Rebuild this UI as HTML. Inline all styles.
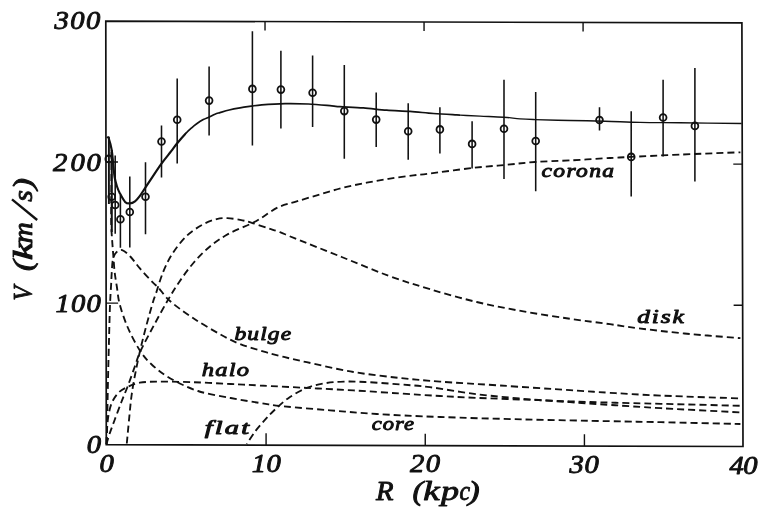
<!DOCTYPE html>
<html lang="en">
<head>
<meta charset="utf-8">
<title>Rotation curve: V (km/s) vs R (kpc)</title>
<style>
html,body{margin:0;padding:0;background:#fff;}
body{width:771px;height:514px;overflow:hidden;font-family:"Liberation Serif",serif;}
svg{display:block;filter:blur(0.35px);}
</style>
</head>
<body>
<svg width="771" height="514" viewBox="0 0 771 514">
<rect width="771" height="514" fill="#fff"/>
<g fill="none" stroke="#111" stroke-linecap="butt" stroke-linejoin="miter">
<path d="M105.80 21.10L741.90 22.90L743.00 446.50L106.30 444.60Z" stroke-width="1.7"/>
<path d="M266.08 445.08V433.28M265.02 21.55V30.55M425.25 445.55V433.75M424.05 22.00V31.00M584.43 446.02V434.22M583.08 22.45V31.45M106.13 303.13H118.13M742.63 305.30H733.63M105.97 161.97H117.97M742.27 164.10H733.27" stroke-width="1.4"/>
<g stroke-width="1.85" stroke-dasharray="7 4">
<path d="M106.30 444.60C106.83 442.83 108.22 437.82 109.50 434.00C110.78 430.18 112.08 426.87 114.00 421.70C115.92 416.53 118.67 409.03 121.00 403.00C123.33 396.97 125.67 391.67 128.00 385.50C130.33 379.33 132.92 371.75 135.00 366.00C137.08 360.25 137.38 357.72 140.50 351.00C143.62 344.28 149.17 334.13 153.70 325.70C158.23 317.27 163.42 307.73 167.70 300.40C171.98 293.07 175.12 287.93 179.40 281.70C183.68 275.47 188.35 268.83 193.40 263.00C198.45 257.17 203.87 251.55 209.70 246.70C215.53 241.85 221.38 237.80 228.40 233.90C235.42 230.00 246.25 226.00 251.80 223.30C257.35 220.60 257.33 220.35 261.70 217.70C266.07 215.05 272.17 210.12 278.00 207.40C283.83 204.68 289.70 203.57 296.70 201.40C303.70 199.23 312.22 196.70 320.00 194.40C327.78 192.10 335.62 189.55 343.40 187.60C351.18 185.65 358.93 184.20 366.70 182.70C374.47 181.20 382.22 179.82 390.00 178.60C397.78 177.38 406.73 176.25 413.40 175.40C420.07 174.55 420.23 174.73 430.00 173.50C439.77 172.27 459.55 169.42 472.00 168.00C484.45 166.58 494.20 166.00 504.70 165.00C515.20 164.00 524.12 162.77 535.00 162.00C545.88 161.23 557.50 161.07 570.00 160.40C582.50 159.73 599.88 158.58 610.00 158.00C620.12 157.42 619.03 157.47 630.70 156.90C642.37 156.33 661.72 155.37 680.00 154.60C698.28 153.83 730.33 152.68 740.40 152.30"/>
<path d="M126.80 443.50C127.20 439.25 128.42 425.92 129.20 418.00C129.98 410.08 130.53 403.17 131.50 396.00C132.47 388.83 133.58 382.50 135.00 375.00C136.42 367.50 138.08 359.33 140.00 351.00C141.92 342.67 144.33 333.17 146.50 325.00C148.67 316.83 151.42 307.27 153.00 302.00C154.58 296.73 154.33 298.33 156.00 293.40C157.67 288.47 160.27 279.02 163.00 272.40C165.73 265.78 168.50 259.73 172.40 253.70C176.30 247.67 181.35 241.07 186.40 236.20C191.45 231.33 197.65 227.35 202.70 224.50C207.75 221.65 212.62 220.15 216.70 219.10C220.78 218.05 223.30 218.08 227.20 218.20C231.10 218.32 236.00 219.03 240.10 219.80C244.20 220.57 247.13 221.38 251.80 222.80C256.47 224.22 263.40 226.73 268.10 228.30C272.80 229.87 275.52 230.52 280.00 232.20C284.48 233.88 284.72 234.27 295.00 238.40C305.28 242.53 326.13 250.78 341.70 257.00C357.27 263.22 373.68 270.33 388.40 275.70C403.12 281.07 415.28 284.82 430.00 289.20C444.72 293.58 461.13 298.30 476.70 302.00C492.27 305.70 507.85 308.60 523.40 311.40C538.95 314.20 555.57 316.67 570.00 318.80C584.43 320.93 598.72 322.63 610.00 324.20C621.28 325.77 625.30 326.65 637.70 328.20C650.10 329.75 667.28 331.83 684.40 333.50C701.52 335.17 731.07 337.42 740.40 338.20"/>
<path d="M106.60 444.00C106.70 440.00 106.97 430.67 107.20 420.00C107.43 409.33 107.70 393.33 108.00 380.00C108.30 366.67 108.67 352.50 109.00 340.00C109.33 327.50 109.65 314.17 110.00 305.00C110.35 295.83 110.80 290.55 111.10 285.00C111.40 279.45 111.48 276.03 111.80 271.70C112.12 267.37 112.22 262.25 113.00 259.00C113.78 255.75 114.97 253.68 116.50 252.20C118.03 250.72 119.90 249.38 122.20 250.10C124.50 250.82 127.38 253.48 130.30 256.50C133.22 259.52 136.00 263.92 139.70 268.20C143.40 272.48 149.38 278.97 152.50 282.20C155.62 285.43 155.48 284.47 158.40 287.60C161.32 290.73 164.17 295.88 170.00 301.00C175.83 306.12 184.83 312.63 193.40 318.30C201.97 323.97 213.63 330.72 221.40 335.00C229.17 339.28 233.57 341.42 240.00 344.00C246.43 346.58 253.33 348.50 260.00 350.50C266.67 352.50 272.22 354.05 280.00 356.00C287.78 357.95 294.47 359.53 306.70 362.20C318.93 364.87 337.85 369.37 353.40 372.00C368.95 374.63 385.57 376.40 400.00 378.00C414.43 379.60 423.33 380.35 440.00 381.60C456.67 382.85 478.33 384.07 500.00 385.50C521.67 386.93 551.67 388.98 570.00 390.20C588.33 391.42 594.83 391.90 610.00 392.80C625.17 393.70 639.27 394.67 661.00 395.60C682.73 396.53 727.17 397.93 740.40 398.40"/>
<path d="M106.50 444.00C106.58 441.67 106.72 434.50 107.00 430.00C107.28 425.50 107.42 421.50 108.20 417.00C108.98 412.50 109.95 407.08 111.70 403.00C113.45 398.92 115.98 395.22 118.70 392.50C121.42 389.78 124.50 388.33 128.00 386.70C131.50 385.07 134.63 383.55 139.70 382.70C144.77 381.85 149.45 381.68 158.40 381.60C167.35 381.52 181.35 381.80 193.40 382.20C205.45 382.60 219.60 383.45 230.70 384.00C241.80 384.55 247.33 384.85 260.00 385.50C272.67 386.15 291.13 387.08 306.70 387.90C322.27 388.72 337.85 389.47 353.40 390.40C368.95 391.33 385.57 392.57 400.00 393.50C414.43 394.43 427.22 395.27 440.00 396.00C452.78 396.73 462.80 397.30 476.70 397.90C490.60 398.50 507.85 399.03 523.40 399.60C538.95 400.17 555.57 400.80 570.00 401.30C584.43 401.80 594.83 402.18 610.00 402.60C625.17 403.02 639.27 403.27 661.00 403.80C682.73 404.33 727.17 405.47 740.40 405.80"/>
<path d="M246.80 444.00C248.23 441.85 252.42 435.07 255.40 431.10C258.38 427.13 261.60 423.63 264.70 420.20C267.80 416.77 270.12 414.13 274.00 410.50C277.88 406.87 282.55 402.17 288.00 398.40C293.45 394.63 300.47 390.43 306.70 387.90C312.93 385.37 319.18 384.25 325.40 383.20C331.62 382.15 337.40 381.80 344.00 381.60C350.60 381.40 355.67 381.53 365.00 382.00C374.33 382.47 389.17 383.53 400.00 384.40C410.83 385.27 417.22 385.57 430.00 387.20C442.78 388.83 461.13 392.27 476.70 394.20C492.27 396.13 507.85 397.47 523.40 398.80C538.95 400.13 555.57 401.18 570.00 402.20C584.43 403.22 594.83 403.90 610.00 404.90C625.17 405.90 639.27 406.95 661.00 408.20C682.73 409.45 727.17 411.70 740.40 412.40" stroke-dashoffset="6.2"/>
<path d="M111.50 152.00C111.48 156.67 111.45 170.83 111.40 180.00C111.35 189.17 111.22 199.33 111.20 207.00C111.18 214.67 111.12 220.08 111.30 226.00C111.48 231.92 111.95 237.42 112.30 242.50C112.65 247.58 113.02 251.63 113.40 256.50C113.78 261.37 114.02 266.62 114.60 271.70C115.18 276.78 116.03 281.50 116.90 287.00C117.77 292.50 117.95 297.87 119.80 304.70C121.65 311.53 124.68 320.42 128.00 328.00C131.32 335.58 135.80 344.17 139.70 350.20C143.60 356.23 146.35 359.53 151.40 364.20C156.45 368.87 162.23 373.73 170.00 378.20C177.77 382.67 187.88 387.70 198.00 391.00C208.12 394.30 220.37 396.00 230.70 398.00C241.03 400.00 251.23 401.62 260.00 403.00C268.77 404.38 271.63 405.08 283.30 406.30C294.97 407.52 314.43 409.02 330.00 410.30C345.57 411.58 358.37 412.88 376.70 414.00C395.03 415.12 415.55 416.10 440.00 417.00C464.45 417.90 495.07 418.70 523.40 419.40C551.73 420.10 587.07 420.73 610.00 421.20C632.93 421.67 639.27 421.73 661.00 422.20C682.73 422.67 727.17 423.70 740.40 424.00"/>
</g>
<clipPath id="c1"><rect x="0" y="0" width="186" height="514"/></clipPath>
<clipPath id="c2"><rect x="186" y="0" width="274" height="514"/></clipPath>
<clipPath id="c3"><rect x="460" y="0" width="320" height="514"/></clipPath>
<path d="M107.00 137.00C107.30 137.25 108.02 136.33 108.80 138.50C109.58 140.67 110.97 145.75 111.70 150.00C112.43 154.25 112.72 159.50 113.20 164.00C113.68 168.50 113.97 173.25 114.60 177.00C115.23 180.75 116.13 183.80 117.00 186.50C117.87 189.20 118.45 190.63 119.80 193.20C121.15 195.77 123.43 200.20 125.10 201.90C126.77 203.60 128.15 203.50 129.80 203.40C131.45 203.30 133.35 202.52 135.00 201.30C136.65 200.08 137.95 198.43 139.70 196.10C141.45 193.77 143.37 190.52 145.50 187.30C147.63 184.08 149.87 180.72 152.50 176.80C155.13 172.88 158.18 168.07 161.30 163.80C164.42 159.53 168.62 154.53 171.20 151.20C173.78 147.87 174.50 146.63 176.80 143.80C179.10 140.97 182.52 136.87 185.00 134.20C187.48 131.53 189.75 129.53 191.70 127.80C193.65 126.07 194.77 125.17 196.70 123.80C198.63 122.43 201.20 120.73 203.30 119.60C205.40 118.47 207.35 117.90 209.30 117.00C211.25 116.10 213.22 114.93 215.00 114.20C216.78 113.47 217.63 113.30 220.00 112.60C222.37 111.90 225.87 110.78 229.20 110.00C232.53 109.22 236.32 108.53 240.00 107.90C243.68 107.27 247.68 106.72 251.30 106.20C254.92 105.68 256.08 105.23 261.70 104.80C267.32 104.37 277.22 103.73 285.00 103.60C292.78 103.47 300.60 103.62 308.40 104.00C316.20 104.38 326.53 105.45 331.80 105.90C337.07 106.35 334.75 106.37 340.00 106.70C345.25 107.03 355.52 107.32 363.30 107.90C371.08 108.48 378.92 109.62 386.70 110.20C394.48 110.78 402.22 110.85 410.00 111.40C417.78 111.95 425.62 112.92 433.40 113.50C441.18 114.08 448.93 114.47 456.70 114.90C464.47 115.33 472.22 115.72 480.00 116.10C487.78 116.48 496.73 116.73 503.40 117.20C510.07 117.67 514.73 118.50 520.00 118.90C525.27 119.30 526.67 119.33 535.00 119.60C543.33 119.87 558.33 120.23 570.00 120.50C581.67 120.77 593.33 120.88 605.00 121.20C616.67 121.52 627.50 122.13 640.00 122.40C652.50 122.67 663.07 122.62 680.00 122.80C696.93 122.98 731.33 123.38 741.60 123.50" stroke-width="2.15" clip-path="url(#c1)"/>
<path d="M107.00 137.00C107.30 137.25 108.02 136.33 108.80 138.50C109.58 140.67 110.97 145.75 111.70 150.00C112.43 154.25 112.72 159.50 113.20 164.00C113.68 168.50 113.97 173.25 114.60 177.00C115.23 180.75 116.13 183.80 117.00 186.50C117.87 189.20 118.45 190.63 119.80 193.20C121.15 195.77 123.43 200.20 125.10 201.90C126.77 203.60 128.15 203.50 129.80 203.40C131.45 203.30 133.35 202.52 135.00 201.30C136.65 200.08 137.95 198.43 139.70 196.10C141.45 193.77 143.37 190.52 145.50 187.30C147.63 184.08 149.87 180.72 152.50 176.80C155.13 172.88 158.18 168.07 161.30 163.80C164.42 159.53 168.62 154.53 171.20 151.20C173.78 147.87 174.50 146.63 176.80 143.80C179.10 140.97 182.52 136.87 185.00 134.20C187.48 131.53 189.75 129.53 191.70 127.80C193.65 126.07 194.77 125.17 196.70 123.80C198.63 122.43 201.20 120.73 203.30 119.60C205.40 118.47 207.35 117.90 209.30 117.00C211.25 116.10 213.22 114.93 215.00 114.20C216.78 113.47 217.63 113.30 220.00 112.60C222.37 111.90 225.87 110.78 229.20 110.00C232.53 109.22 236.32 108.53 240.00 107.90C243.68 107.27 247.68 106.72 251.30 106.20C254.92 105.68 256.08 105.23 261.70 104.80C267.32 104.37 277.22 103.73 285.00 103.60C292.78 103.47 300.60 103.62 308.40 104.00C316.20 104.38 326.53 105.45 331.80 105.90C337.07 106.35 334.75 106.37 340.00 106.70C345.25 107.03 355.52 107.32 363.30 107.90C371.08 108.48 378.92 109.62 386.70 110.20C394.48 110.78 402.22 110.85 410.00 111.40C417.78 111.95 425.62 112.92 433.40 113.50C441.18 114.08 448.93 114.47 456.70 114.90C464.47 115.33 472.22 115.72 480.00 116.10C487.78 116.48 496.73 116.73 503.40 117.20C510.07 117.67 514.73 118.50 520.00 118.90C525.27 119.30 526.67 119.33 535.00 119.60C543.33 119.87 558.33 120.23 570.00 120.50C581.67 120.77 593.33 120.88 605.00 121.20C616.67 121.52 627.50 122.13 640.00 122.40C652.50 122.67 663.07 122.62 680.00 122.80C696.93 122.98 731.33 123.38 741.60 123.50" stroke-width="1.7" clip-path="url(#c2)"/>
<path d="M107.00 137.00C107.30 137.25 108.02 136.33 108.80 138.50C109.58 140.67 110.97 145.75 111.70 150.00C112.43 154.25 112.72 159.50 113.20 164.00C113.68 168.50 113.97 173.25 114.60 177.00C115.23 180.75 116.13 183.80 117.00 186.50C117.87 189.20 118.45 190.63 119.80 193.20C121.15 195.77 123.43 200.20 125.10 201.90C126.77 203.60 128.15 203.50 129.80 203.40C131.45 203.30 133.35 202.52 135.00 201.30C136.65 200.08 137.95 198.43 139.70 196.10C141.45 193.77 143.37 190.52 145.50 187.30C147.63 184.08 149.87 180.72 152.50 176.80C155.13 172.88 158.18 168.07 161.30 163.80C164.42 159.53 168.62 154.53 171.20 151.20C173.78 147.87 174.50 146.63 176.80 143.80C179.10 140.97 182.52 136.87 185.00 134.20C187.48 131.53 189.75 129.53 191.70 127.80C193.65 126.07 194.77 125.17 196.70 123.80C198.63 122.43 201.20 120.73 203.30 119.60C205.40 118.47 207.35 117.90 209.30 117.00C211.25 116.10 213.22 114.93 215.00 114.20C216.78 113.47 217.63 113.30 220.00 112.60C222.37 111.90 225.87 110.78 229.20 110.00C232.53 109.22 236.32 108.53 240.00 107.90C243.68 107.27 247.68 106.72 251.30 106.20C254.92 105.68 256.08 105.23 261.70 104.80C267.32 104.37 277.22 103.73 285.00 103.60C292.78 103.47 300.60 103.62 308.40 104.00C316.20 104.38 326.53 105.45 331.80 105.90C337.07 106.35 334.75 106.37 340.00 106.70C345.25 107.03 355.52 107.32 363.30 107.90C371.08 108.48 378.92 109.62 386.70 110.20C394.48 110.78 402.22 110.85 410.00 111.40C417.78 111.95 425.62 112.92 433.40 113.50C441.18 114.08 448.93 114.47 456.70 114.90C464.47 115.33 472.22 115.72 480.00 116.10C487.78 116.48 496.73 116.73 503.40 117.20C510.07 117.67 514.73 118.50 520.00 118.90C525.27 119.30 526.67 119.33 535.00 119.60C543.33 119.87 558.33 120.23 570.00 120.50C581.67 120.77 593.33 120.88 605.00 121.20C616.67 121.52 627.50 122.13 640.00 122.40C652.50 122.67 663.07 122.62 680.00 122.80C696.93 122.98 731.33 123.38 741.60 123.50" stroke-width="1.4" clip-path="url(#c3)"/>
<path d="M108.80 136.80V204.00M111.70 150.00V232.00M115.20 155.50V233.80M120.40 195.00V247.80M129.80 176.60V247.50M145.50 162.20V234.30M161.50 125.40V177.50M177.20 78.40V163.60M209.10 66.60V135.60M252.40 31.20V145.40M280.90 50.80V128.60M312.60 55.50V127.00M344.30 65.00V158.70M376.20 92.50V146.90M408.20 103.20V159.70M439.90 107.20V153.60M472.10 121.20V168.50M504.00 79.70V179.00M535.70 92.00V191.20M599.50 107.20V130.50M631.20 111.20V196.50M663.10 79.70V156.50M694.90 68.00V181.40" stroke-width="1.55"/>
<path d="M108.8 136.8V204M111.7 150V232" stroke-width="1.75"/>
<circle cx="108.80" cy="158.90" r="3.4" stroke-width="1.8"/>
<circle cx="111.70" cy="196.80" r="3.4" stroke-width="1.8"/>
<circle cx="115.20" cy="205.00" r="3.4" stroke-width="1.8"/>
<circle cx="120.40" cy="219.30" r="3.4" stroke-width="1.8"/>
<circle cx="129.80" cy="212.00" r="3.4" stroke-width="1.8"/>
<circle cx="145.50" cy="196.80" r="3.4" stroke-width="1.8"/>
<circle cx="161.50" cy="141.50" r="3.4" stroke-width="1.8"/>
<circle cx="177.20" cy="119.80" r="3.4" stroke-width="1.8"/>
<circle cx="209.10" cy="100.60" r="3.4" stroke-width="1.8"/>
<circle cx="252.40" cy="88.90" r="3.4" stroke-width="1.8"/>
<circle cx="280.90" cy="89.60" r="3.4" stroke-width="1.8"/>
<circle cx="312.60" cy="92.80" r="3.4" stroke-width="1.8"/>
<circle cx="344.30" cy="111.10" r="3.4" stroke-width="1.8"/>
<circle cx="376.20" cy="119.60" r="3.4" stroke-width="1.8"/>
<circle cx="408.20" cy="131.30" r="3.4" stroke-width="1.8"/>
<circle cx="439.90" cy="129.40" r="3.4" stroke-width="1.8"/>
<circle cx="472.10" cy="143.90" r="3.4" stroke-width="1.8"/>
<circle cx="504.00" cy="128.70" r="3.4" stroke-width="1.8"/>
<circle cx="535.70" cy="141.00" r="3.4" stroke-width="1.8"/>
<circle cx="599.50" cy="120.00" r="3.4" stroke-width="1.8"/>
<circle cx="631.20" cy="156.90" r="3.4" stroke-width="1.8"/>
<circle cx="663.10" cy="117.50" r="3.4" stroke-width="1.8"/>
<circle cx="694.90" cy="125.90" r="3.4" stroke-width="1.8"/>
</g>
<text fill="#111" font-style="italic" transform="translate(54.40 29.10)" font-family="'Liberation Serif', serif" font-weight="normal" font-size="25.00" textLength="14.30" lengthAdjust="spacingAndGlyphs" stroke="#111" stroke-width="0.90" stroke-linejoin="round">3</text>
<text fill="#111" font-style="italic" transform="translate(70.20 29.10)" font-family="'Liberation Serif', serif" font-weight="normal" font-size="25.00" textLength="14.30" lengthAdjust="spacingAndGlyphs" stroke="#111" stroke-width="0.90" stroke-linejoin="round">0</text>
<text fill="#111" font-style="italic" transform="translate(86.00 29.10)" font-family="'Liberation Serif', serif" font-weight="normal" font-size="25.00" textLength="14.30" lengthAdjust="spacingAndGlyphs" stroke="#111" stroke-width="0.90" stroke-linejoin="round">0</text>
<text fill="#111" font-style="italic" transform="translate(53.00 171.40)" font-family="'Liberation Serif', serif" font-weight="normal" font-size="25.00" textLength="14.30" lengthAdjust="spacingAndGlyphs" stroke="#111" stroke-width="0.90" stroke-linejoin="round">2</text>
<text fill="#111" font-style="italic" transform="translate(70.60 171.40)" font-family="'Liberation Serif', serif" font-weight="normal" font-size="25.00" textLength="14.30" lengthAdjust="spacingAndGlyphs" stroke="#111" stroke-width="0.90" stroke-linejoin="round">0</text>
<text fill="#111" font-style="italic" transform="translate(86.40 171.40)" font-family="'Liberation Serif', serif" font-weight="normal" font-size="25.00" textLength="14.30" lengthAdjust="spacingAndGlyphs" stroke="#111" stroke-width="0.90" stroke-linejoin="round">0</text>
<text fill="#111" font-style="italic" transform="translate(55.60 311.70)" font-family="'Liberation Serif', serif" font-weight="normal" font-size="25.00" textLength="14.30" lengthAdjust="spacingAndGlyphs" stroke="#111" stroke-width="0.90" stroke-linejoin="round">1</text>
<text fill="#111" font-style="italic" transform="translate(71.00 311.70)" font-family="'Liberation Serif', serif" font-weight="normal" font-size="25.00" textLength="14.30" lengthAdjust="spacingAndGlyphs" stroke="#111" stroke-width="0.90" stroke-linejoin="round">0</text>
<text fill="#111" font-style="italic" transform="translate(86.40 311.70)" font-family="'Liberation Serif', serif" font-weight="normal" font-size="25.00" textLength="14.30" lengthAdjust="spacingAndGlyphs" stroke="#111" stroke-width="0.90" stroke-linejoin="round">0</text>
<text fill="#111" font-style="italic" transform="translate(86.80 453.20)" font-family="'Liberation Serif', serif" font-weight="normal" font-size="25.00" textLength="14.30" lengthAdjust="spacingAndGlyphs" stroke="#111" stroke-width="0.90" stroke-linejoin="round">0</text>
<text fill="#111" font-style="italic" transform="translate(99.40 471.90)" font-family="'Liberation Serif', serif" font-weight="normal" font-size="25.00" textLength="14.30" lengthAdjust="spacingAndGlyphs" stroke="#111" stroke-width="0.90" stroke-linejoin="round">0</text>
<text fill="#111" font-style="italic" transform="translate(251.80 472.00)" font-family="'Liberation Serif', serif" font-weight="normal" font-size="25.00" textLength="14.30" lengthAdjust="spacingAndGlyphs" stroke="#111" stroke-width="0.90" stroke-linejoin="round">1</text>
<text fill="#111" font-style="italic" transform="translate(266.40 472.00)" font-family="'Liberation Serif', serif" font-weight="normal" font-size="25.00" textLength="14.30" lengthAdjust="spacingAndGlyphs" stroke="#111" stroke-width="0.90" stroke-linejoin="round">0</text>
<text fill="#111" font-style="italic" transform="translate(410.00 472.40)" font-family="'Liberation Serif', serif" font-weight="normal" font-size="25.00" textLength="14.30" lengthAdjust="spacingAndGlyphs" stroke="#111" stroke-width="0.90" stroke-linejoin="round">2</text>
<text fill="#111" font-style="italic" transform="translate(425.80 472.40)" font-family="'Liberation Serif', serif" font-weight="normal" font-size="25.00" textLength="14.30" lengthAdjust="spacingAndGlyphs" stroke="#111" stroke-width="0.90" stroke-linejoin="round">0</text>
<text fill="#111" font-style="italic" transform="translate(569.60 473.00)" font-family="'Liberation Serif', serif" font-weight="normal" font-size="25.00" textLength="14.30" lengthAdjust="spacingAndGlyphs" stroke="#111" stroke-width="0.90" stroke-linejoin="round">3</text>
<text fill="#111" font-style="italic" transform="translate(584.40 473.00)" font-family="'Liberation Serif', serif" font-weight="normal" font-size="25.00" textLength="14.30" lengthAdjust="spacingAndGlyphs" stroke="#111" stroke-width="0.90" stroke-linejoin="round">0</text>
<text fill="#111" font-style="italic" transform="translate(729.40 473.80)" font-family="'Liberation Serif', serif" font-weight="normal" font-size="25.00" textLength="14.30" lengthAdjust="spacingAndGlyphs" stroke="#111" stroke-width="0.90" stroke-linejoin="round">4</text>
<text fill="#111" font-style="italic" transform="translate(743.20 473.80)" font-family="'Liberation Serif', serif" font-weight="normal" font-size="25.00" textLength="14.30" lengthAdjust="spacingAndGlyphs" stroke="#111" stroke-width="0.90" stroke-linejoin="round">0</text>
<text fill="#111" font-style="italic" transform="translate(376.00 500.40) scale(1.080 1)" font-family="'Liberation Serif', serif" font-weight="normal" font-size="26.50" textLength="16.48" lengthAdjust="spacing" stroke="#111" stroke-width="0.90" stroke-linejoin="round" xml:space="preserve">R</text>
<text fill="#111" font-style="italic" transform="translate(412.40 500.40)" font-family="'Liberation Serif', serif" font-weight="normal" font-size="27.50" textLength="10.80" lengthAdjust="spacingAndGlyphs" stroke="#111" stroke-width="0.90" stroke-linejoin="round">(</text>
<text fill="#111" font-style="italic" transform="translate(423.20 500.40)" font-family="'Liberation Serif', serif" font-weight="normal" font-size="27.50" textLength="16.40" lengthAdjust="spacingAndGlyphs" stroke="#111" stroke-width="0.90" stroke-linejoin="round">k</text>
<text fill="#111" font-style="italic" transform="translate(441.00 500.40)" font-family="'Liberation Serif', serif" font-weight="normal" font-size="27.50" textLength="18.00" lengthAdjust="spacingAndGlyphs" stroke="#111" stroke-width="0.90" stroke-linejoin="round">p</text>
<text fill="#111" font-style="italic" transform="translate(459.40 500.40)" font-family="'Liberation Serif', serif" font-weight="normal" font-size="27.50" textLength="10.60" lengthAdjust="spacingAndGlyphs" stroke="#111" stroke-width="0.90" stroke-linejoin="round">c</text>
<text fill="#111" font-style="italic" transform="translate(468.20 500.40)" font-family="'Liberation Serif', serif" font-weight="normal" font-size="27.50" textLength="11.40" lengthAdjust="spacingAndGlyphs" stroke="#111" stroke-width="0.90" stroke-linejoin="round">)</text>
<text fill="#111" font-style="italic" transform="translate(31.90 300.60) rotate(-90) scale(0.900 1)" font-family="'Liberation Serif', serif" font-weight="normal" font-size="26.50" textLength="16.89" lengthAdjust="spacing" stroke="#111" stroke-width="0.90" stroke-linejoin="round" xml:space="preserve">V</text>
<text fill="#111" font-style="italic" transform="translate(31.90 271.00) rotate(-90)" font-family="'Liberation Serif', serif" font-weight="normal" font-size="27.50" textLength="10.80" lengthAdjust="spacingAndGlyphs" stroke="#111" stroke-width="0.90" stroke-linejoin="round">(</text>
<text fill="#111" font-style="italic" transform="translate(31.90 260.20) rotate(-90)" font-family="'Liberation Serif', serif" font-weight="normal" font-size="27.50" textLength="18.50" lengthAdjust="spacingAndGlyphs" stroke="#111" stroke-width="0.90" stroke-linejoin="round">k</text>
<text fill="#111" font-style="italic" transform="translate(31.90 243.20) rotate(-90)" font-family="'Liberation Serif', serif" font-weight="normal" font-size="27.50" textLength="21.00" lengthAdjust="spacingAndGlyphs" stroke="#111" stroke-width="0.90" stroke-linejoin="round">m</text>
<text fill="#111" font-style="italic" transform="translate(31.90 201.80) rotate(-90)" font-family="'Liberation Serif', serif" font-weight="normal" font-size="27.50" textLength="11.60" lengthAdjust="spacingAndGlyphs" stroke="#111" stroke-width="0.90" stroke-linejoin="round">s</text>
<text fill="#111" font-style="italic" transform="translate(31.90 189.60) rotate(-90)" font-family="'Liberation Serif', serif" font-weight="normal" font-size="27.50" textLength="11.40" lengthAdjust="spacingAndGlyphs" stroke="#111" stroke-width="0.90" stroke-linejoin="round">)</text>
<path d="M37.2 220.0L12.0 199.4" stroke="#111" stroke-width="2.3" fill="none"/>
<text fill="#111" font-style="italic" transform="translate(541.60 176.70) scale(1.200 1)" font-family="'Liberation Serif', serif" font-weight="normal" font-size="19.60" textLength="60.33" lengthAdjust="spacing" stroke="#111" stroke-width="0.95" stroke-linejoin="round" xml:space="preserve">corona</text>
<text fill="#111" font-style="italic" transform="translate(637.20 323.00) scale(1.300 1)" font-family="'Liberation Serif', serif" font-weight="normal" font-size="19.60" textLength="35.92" lengthAdjust="spacing" stroke="#111" stroke-width="0.95" stroke-linejoin="round" xml:space="preserve">disk</text>
<text fill="#111" font-style="italic" transform="translate(234.40 339.60) scale(1.200 1)" font-family="'Liberation Serif', serif" font-weight="normal" font-size="19.60" textLength="47.33" lengthAdjust="spacing" stroke="#111" stroke-width="0.95" stroke-linejoin="round" xml:space="preserve">bulge</text>
<text fill="#111" font-style="italic" transform="translate(201.70 376.10) scale(1.250 1)" font-family="'Liberation Serif', serif" font-weight="normal" font-size="19.60" textLength="37.92" lengthAdjust="spacing" stroke="#111" stroke-width="0.95" stroke-linejoin="round" xml:space="preserve">halo</text>
<text fill="#111" font-style="italic" transform="translate(204.80 433.90) scale(1.450 1)" font-family="'Liberation Serif', serif" font-weight="normal" font-size="19.60" textLength="30.55" lengthAdjust="spacing" stroke="#111" stroke-width="0.95" stroke-linejoin="round" xml:space="preserve">flat</text>
<text fill="#111" font-style="italic" transform="translate(371.70 429.90) scale(1.150 1)" font-family="'Liberation Serif', serif" font-weight="normal" font-size="19.60" textLength="36.87" lengthAdjust="spacing" stroke="#111" stroke-width="0.95" stroke-linejoin="round" xml:space="preserve">core</text>
</svg>
</body>
</html>
